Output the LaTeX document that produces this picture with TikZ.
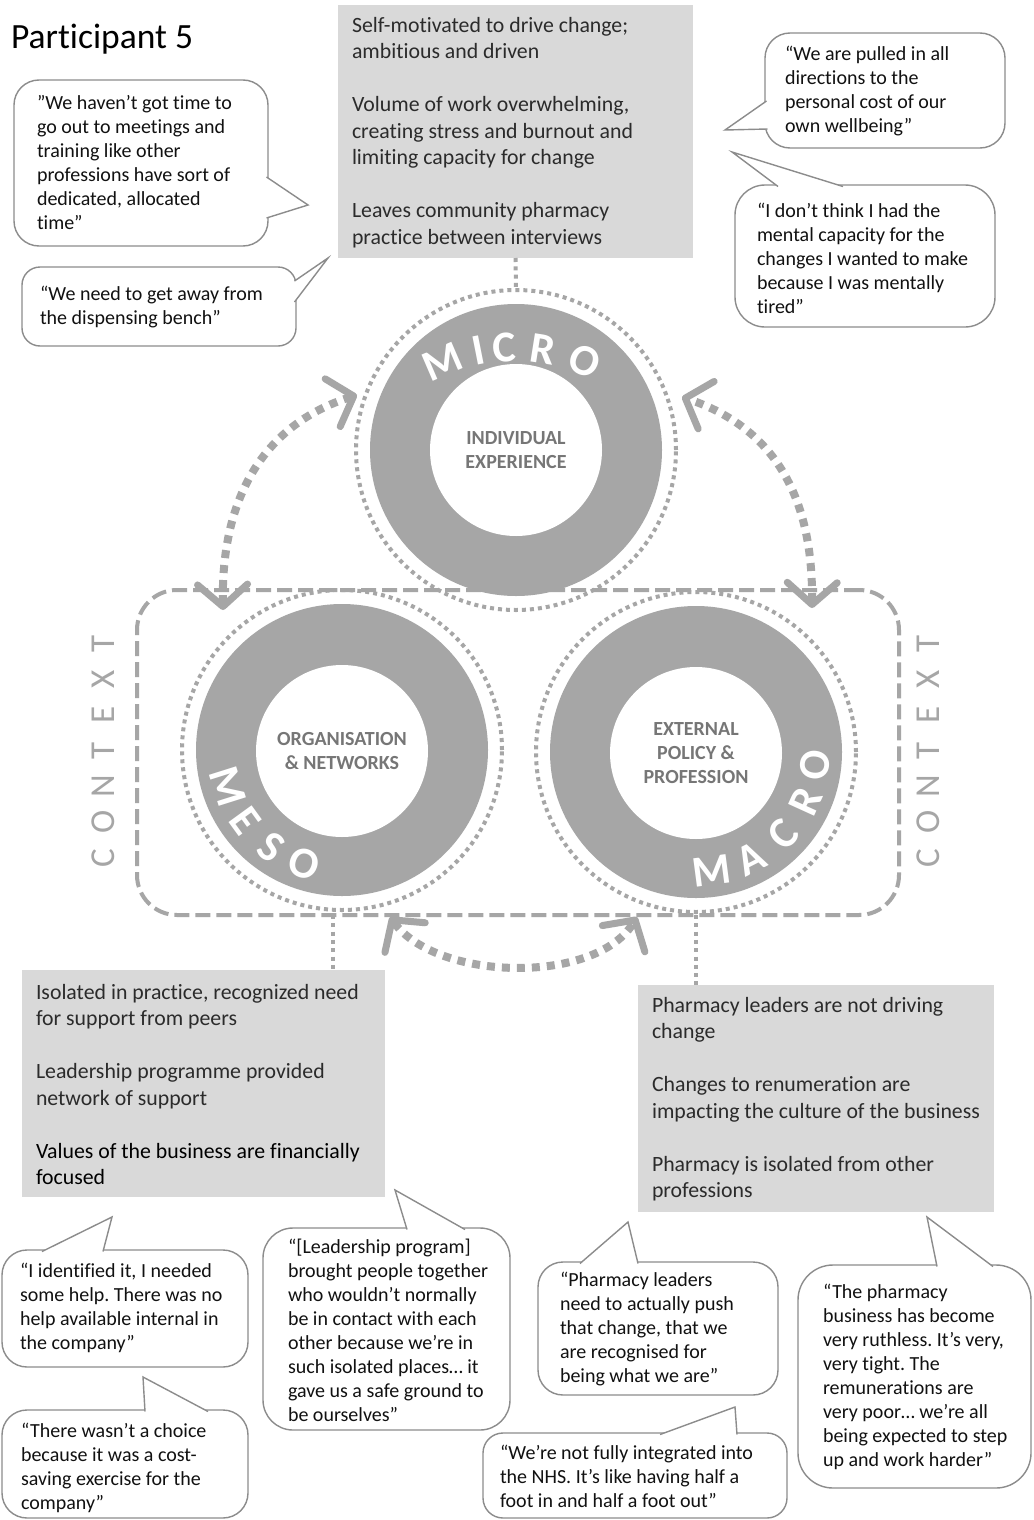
\documentclass[tikz,border=0pt]{standalone}
\usepackage{fontspec}
\setmainfont{Carlito}[Ligatures=NoCommon]
\usetikzlibrary{arrows.meta,calc}
\frenchspacing
\definecolor{ringgray}{HTML}{A6A6A6}
\definecolor{boxgray}{HTML}{D9D9D9}
\definecolor{bubline}{HTML}{8C8C8C}
\definecolor{labgray}{HTML}{767676}
\definecolor{txtdark}{HTML}{2B2B2B}
\definecolor{qcol}{HTML}{111111}
\newcommand{\bubtail}[3]{%
  \fill[white] #1 -- #2 -- #3 -- cycle;
  \draw[bubline, line width=1.4pt, line join=miter] #1 -- #2 -- #3;}
\tikzset{
  every node/.style={inner sep=0pt, outer sep=0pt},
  ctxbox/.style={draw=ringgray, line width=4pt, dash pattern=on 15pt off 6pt, rounded corners=40pt},
  dotring/.style={circle, draw=ringgray, line width=4pt, dash pattern=on 4pt off 4pt, minimum size=320pt},
  ring/.style={circle, fill=ringgray, minimum size=292pt},
  core/.style={circle, fill=white, minimum size=172pt, align=center, text=labgray, font=\fontsize{20}{24}\selectfont\bfseries},
  ringlab/.style={text=white, font=\fontsize{44}{44}\selectfont\bfseries},
  ctxlab/.style={text=ringgray, font=\fontsize{35}{35}\selectfont, rotate=90},
  dotline/.style={ringgray, line width=4pt, dash pattern=on 4pt off 4.3pt},
  flow/.style={ringgray, line width=8pt, dash pattern=on 8pt off 7pt, >={Straight Barb[length=22pt,width=50pt,line width=7pt,round]}, <->},
  gbox/.style={fill=boxgray},
  bub/.style={draw=bubline, line width=1.4pt, fill=white, rounded corners=#1},
  bub/.default=25pt,
  qtext/.style={anchor=west, align=left, text=qcol, font=\fontsize{20}{24}\selectfont},
  btext/.style={anchor=west, align=left, text=txtdark, font=\fontsize{21.8}{26.5}\selectfont},
}
\begin{document}
\begin{tikzpicture}[x=1pt,y=-1pt]
\fill[white] (0,0) rectangle (1033,1520);
\useasboundingbox (0,0) rectangle (1033,1520);

% title
\node[anchor=west, font=\fontsize{35.5}{38}\selectfont, text=black] (title) at (11,39) {Participant 5};

% context container
\node[ctxbox, minimum width=762pt, minimum height=325pt] (ctx) at (518,752.5) {};

% dotted circles
\node[dotring] (microD) at (516,450) {};
\node[dotring] (mesoD) at (342,750) {};
\node[dotring] (macroD) at (696,752) {};

% rings
\node[ring] (micro) at (516,450) {};
\node[core] (microI) at (516,450) {INDIVIDUAL\\EXPERIENCE};
\node[ring] (meso) at (342,750) {};
\node[core] (mesoI) at (342,751) {ORGANISATION\\\& NETWORKS};
\node[ring] (macro) at (696,752) {};
\node[core] (macroI) at (696,753) {EXTERNAL\\POLICY \&\\PROFESSION};

% ring labels
\foreach \ch/\a [count=\i] in {M/113.3, I/101.2, C/93.1, R/81.0, O/67.3}{
  \pgfmathsetmacro\rr{\a-90}
  \node[ringlab, rotate=\rr] (mic\i) at ({514+182*cos(\a)},{529-182*sin(\a)}) {\ch};
}
\foreach \ch/\a [count=\i] in {M/197.5, E/216, S/234, O/251.5}{
  \pgfmathsetmacro\rr{\a+90}
  \node[ringlab, rotate=\rr] (mes\i) at ({342+120*cos(\a)},{750-120*sin(\a)}) {\ch};
}
\foreach \ch/\a [count=\i] in {M/277.5, A/297, C/316.5, R/335.5, O/353.5}{
  \pgfmathsetmacro\rr{\a+90}
  \node[ringlab, rotate=\rr] (mac\i) at ({696+120*cos(\a)},{752-120*sin(\a)}) {\ch};
}

% CONTEXT labels
\foreach \ch [count=\i from 0] in {C,O,N,T,E,X,T}{
  \node[ctxlab] (ctxL\i) at (103,{858-\i*35.7}) {\ch};
  \node[ctxlab] (ctxR\i) at (928,{858-\i*35.7}) {\ch};
}

% curved double arrows
\coordinate (aMe) at (223,610);
\coordinate (aMiL) at (357,395);
\draw[flow] (aMe) .. controls (221,500) and (262,425) .. (aMiL);
\coordinate (aMa) at (812,608);
\coordinate (aMiR) at (682,397);
\draw[flow] (aMa) .. controls (813,500) and (777,429) .. (aMiR);
\coordinate (aBL) at (390,917);
\coordinate (aBR) at (637,917);
\draw[flow] (aBL) .. controls (437,981) and (595,985) .. (aBR);

% gray boxes
\node[gbox, minimum width=355pt, minimum height=253pt] (topbox) at (515.5,131.5) {};
\node[btext] (topt) at (352,132.5) {Self-motivated to drive change;\\ambitious and driven\\[26.5pt]Volume of work overwhelming,\\creating stress and burnout and\\limiting capacity for change\\[26.5pt]Leaves community pharmacy\\practice between interviews};
\node[gbox, minimum width=363pt, minimum height=227pt] (blbox) at (203.5,1083.5) {};
\node[btext] (blt) at (36,1084.5) {Isolated in practice, recognized need\\for support from peers\\[26.5pt]Leadership programme provided\\network of support\\[26.5pt]\textcolor{black}{Values of the business are financially}\\\textcolor{black}{focused}};
\node[gbox, minimum width=356pt, minimum height=227pt] (brbox) at (816,1098.5) {};
\node[btext] (brt) at (652,1099) {Pharmacy leaders are not driving\\change\\[26.5pt]Changes to renumeration are\\impacting the culture of the business\\[26.5pt]Pharmacy is isolated from other\\professions};

% dotted connectors
\draw[dotline] (topbox.south) -- (microD.north);
\coordinate (cBL) at ($(ctx.south west)+(196,0)$);
\draw[dotline] (cBL) -- (cBL |- blbox.north);
\coordinate (cBR) at ($(ctx.south west)+(559,0)$);
\draw[dotline] (cBR) -- (cBR |- brbox.north);

% speech bubbles
\node[bub, minimum width=254pt, minimum height=166pt] (q1) at (141,163) {};
\bubtail{(266.5,177)}{(308,205)}{(266.5,218)}
\node[qtext] (q1t) at (37,163) {”We haven’t got time to\\go out to meetings and\\training like other\\professions have sort of\\dedicated, allocated\\time”};

\node[bub=18pt, minimum width=274pt, minimum height=79pt] (q2) at (159,306.5) {};
\bubtail{(294.5,281)}{(328,258)}{(294.5,302)}
\node[qtext] (q2t) at (40,307) {“We need to get away from\\the dispensing bench”};

\node[bub, minimum width=240pt, minimum height=115pt] (q3) at (885,90.5) {};
\bubtail{(766.5,101)}{(725,130)}{(767.5,129)}
\node[qtext] (q3t) at (785,91) {“We are pulled in all\\directions to the\\personal cost of our\\own wellbeing”};

\node[bub=30pt, minimum width=260pt, minimum height=142pt] (q4) at (865,256) {};
\bubtail{(778,186.5)}{(732,152)}{(843,186.5)}
\node[qtext] (q4t) at (757,258) {“I don’t think I had the\\mental capacity for the\\changes I wanted to make\\because I was mentally\\tired”};

\node[bub, minimum width=246pt, minimum height=117pt] (q5) at (125,1308.5) {};
\bubtail{(42,1251.5)}{(112,1217)}{(103,1251.5)}
\node[qtext] (q5t) at (20,1308) {“I identified it, I needed\\some help. There was no\\help available internal in\\the company”};

\node[bub, minimum width=246pt, minimum height=108pt] (q6) at (125,1464) {};
\bubtail{(145,1411.5)}{(143,1377)}{(208,1411.5)}
\node[qtext] (q6t) at (21,1468) {“There wasn’t a choice\\because it was a cost-\\saving exercise for the\\company”};

\node[bub=30pt, minimum width=247pt, minimum height=202pt] (q7) at (386.5,1329) {};
\bubtail{(407,1229.5)}{(395,1190)}{(465,1229.5)}
\node[qtext] (q7t) at (288,1330) {“[Leadership program]\\brought people together\\who wouldn’t normally\\be in contact with each\\other because we’re in\\such isolated places… it\\gave us a safe ground to\\be ourselves”};

\node[bub, minimum width=240pt, minimum height=133pt] (q8) at (658,1328.5) {};
\bubtail{(580,1263.5)}{(628,1222)}{(638,1263.5)}
\node[qtext] (q8t) at (560,1329) {“Pharmacy leaders\\need to actually push\\that change, that we\\are recognised for\\being what we are”};

\node[bub=20pt, minimum width=304pt, minimum height=85pt] (q9) at (635,1475.5) {};
\bubtail{(660,1434.5)}{(735,1407)}{(737,1434.5)}
\node[qtext] (q9t) at (500,1476) {“We’re not fully integrated into\\the NHS. It’s like having half a\\foot in and half a foot out”};

\node[bub=35pt, minimum width=233pt, minimum height=223pt] (q10) at (914.5,1376.5) {};
\bubtail{(937,1266.5)}{(927,1217)}{(993,1266.5)}
\node[qtext] (q10t) at (823,1377) {“The pharmacy\\business has become\\very ruthless. It’s very,\\very tight. The\\remunerations are\\very poor… we’re all\\being expected to step\\up and work harder”};
\end{tikzpicture}
\end{document}
